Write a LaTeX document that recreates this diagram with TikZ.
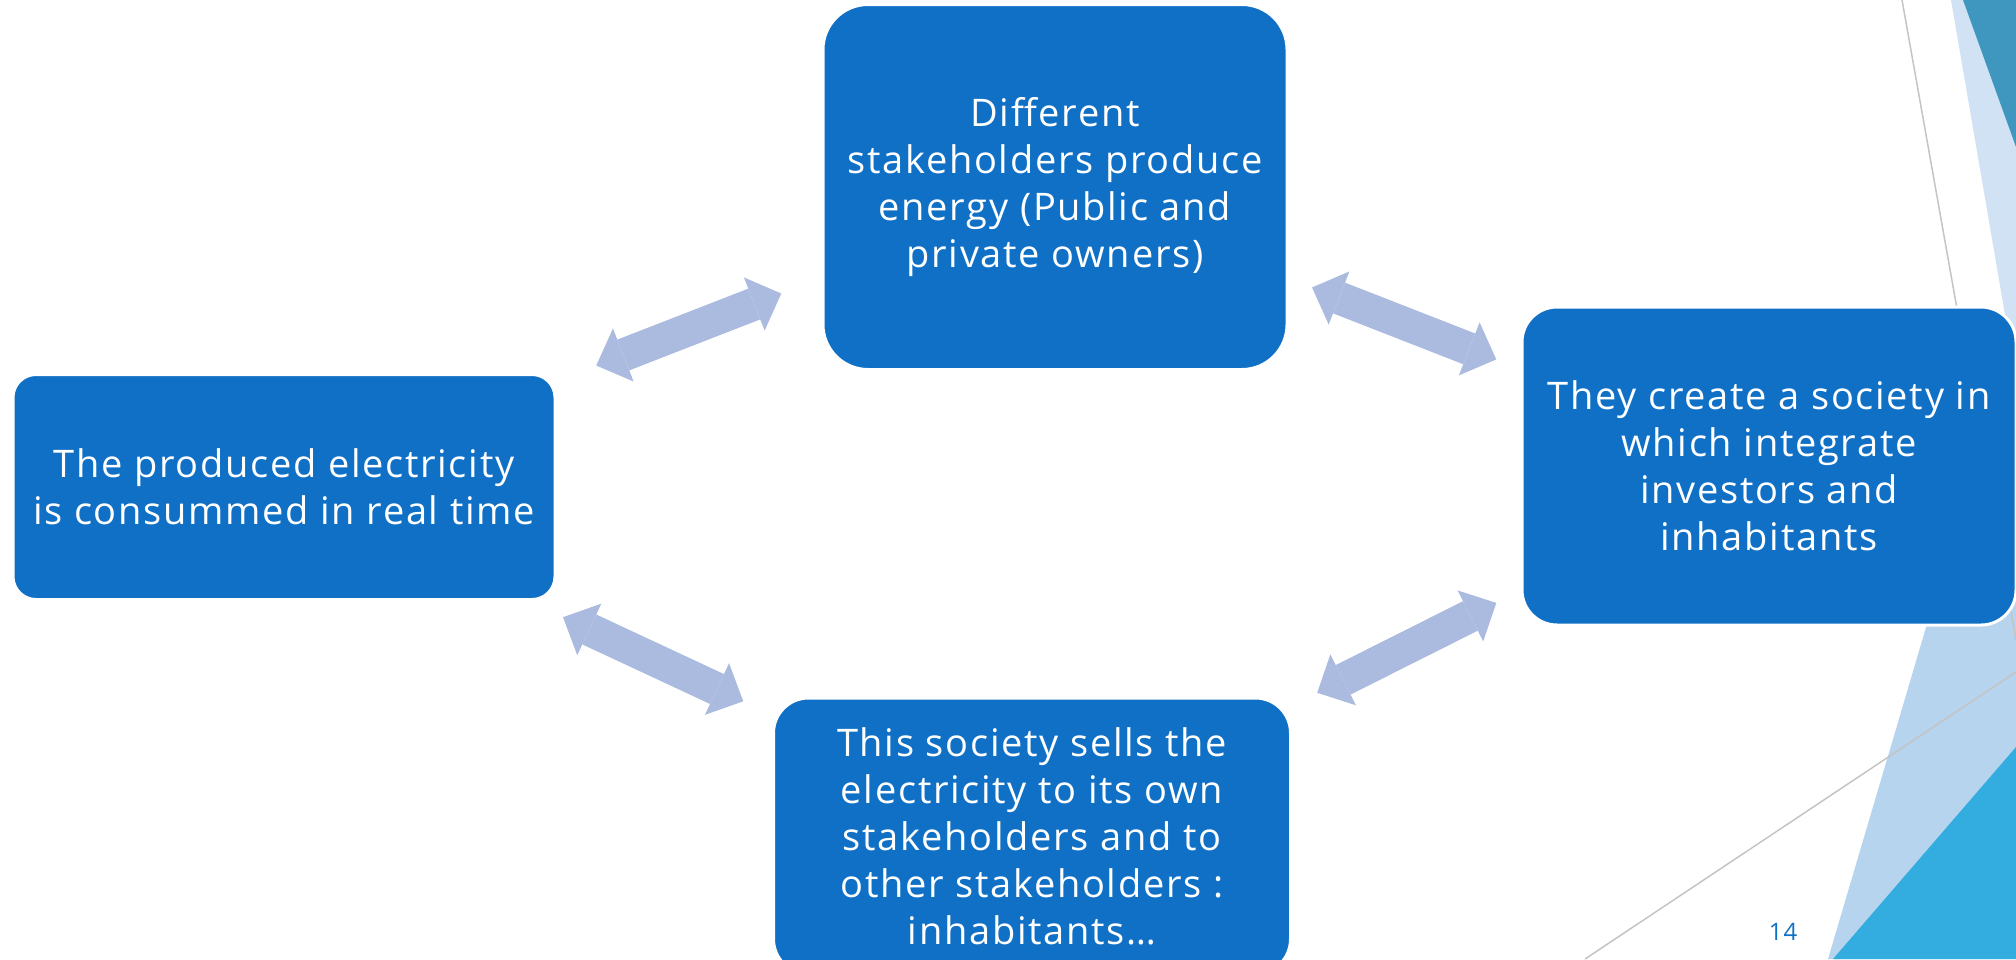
\documentclass[tikz,border=0pt]{standalone}
\usepackage{fontspec}
\setmainfont[LetterSpace=4.5]{Open Sans}
\usetikzlibrary{arrows.meta,calc}
\definecolor{boxblue}{HTML}{1070C6}
\definecolor{arrowblue}{HTML}{ABBBDF}
\definecolor{paleblue}{HTML}{D0E2F3}
\definecolor{lightblue}{HTML}{B7D4EE}
\definecolor{tealblue}{HTML}{3F97BF}
\definecolor{skyblue}{HTML}{33ACDF}
\definecolor{linegray}{HTML}{C4C4C4}
\tikzset{
  stage/.style={fill=boxblue, draw=white, line width=3pt, text=white, align=center, inner sep=0pt, font=\fontsize{38}{47}\selectfont},
  link/.style={draw=arrowblue, line width=33pt, {Triangle[width=57pt,length=29pt,line width=0pt]}-{Triangle[width=57pt,length=29pt,line width=0pt]}}
}
\begin{document}
\begin{tikzpicture}[x=1pt,y=-1pt]
\useasboundingbox (0,0) rectangle (2016,959);
\fill[paleblue] (1951,0) -- (2016,0) -- (2016,379) -- cycle;
\fill[tealblue] (1963,0) -- (2016,0) -- (2016,147) -- cycle;
\fill[lightblue] (1940,580) -- (2016,580) -- (2016,959) -- (1828,959) -- cycle;
\fill[skyblue] (2016,747) -- (2016,959) -- (1833,959) -- cycle;
\draw[linegray, line width=1.5pt] (1902,0) -- (2016,640);
\draw[linegray, line width=1.5pt] (1585,959) -- (2016,672);
\node[stage, rounded corners=23pt, minimum width=542pt, minimum height=225pt] (cons) at (284,487) {The produced electricity\\is consummed in real time};
\node[stage, rounded corners=45pt, minimum width=464pt, minimum height=365pt] (prod) at (1055,187) {Different\\stakeholders produce\\energy (Public and\\private owners)};
\node[stage, rounded corners=35pt, minimum width=494pt, minimum height=318pt] (soc) at (1769,466) {They create a society in\\which integrate\\investors and\\inhabitants};
\node[stage, rounded corners=35pt, minimum width=517pt, minimum height=276pt] (sell) at (1032,836) {This society sells the\\electricity to its own\\stakeholders and to\\other stakeholders :\\inhabitants…};
\node[text=boxblue, font=\fontsize{24}{28}\selectfont] (page) at (1783,932) {14};
\draw[link] ($(cons)!0.405!(prod)$) -- ($(cons)!0.645!(prod)$);
\draw[link] ($(prod)!0.36!(soc)$) -- ($(prod)!0.618!(soc)$);
\draw[link] ($(cons)!0.373!(sell)$) -- ($(cons)!0.614!(sell)$);
\draw[link] ($(sell)!0.387!(soc)$) -- ($(sell)!0.63!(soc)$);
\end{tikzpicture}
\end{document}
